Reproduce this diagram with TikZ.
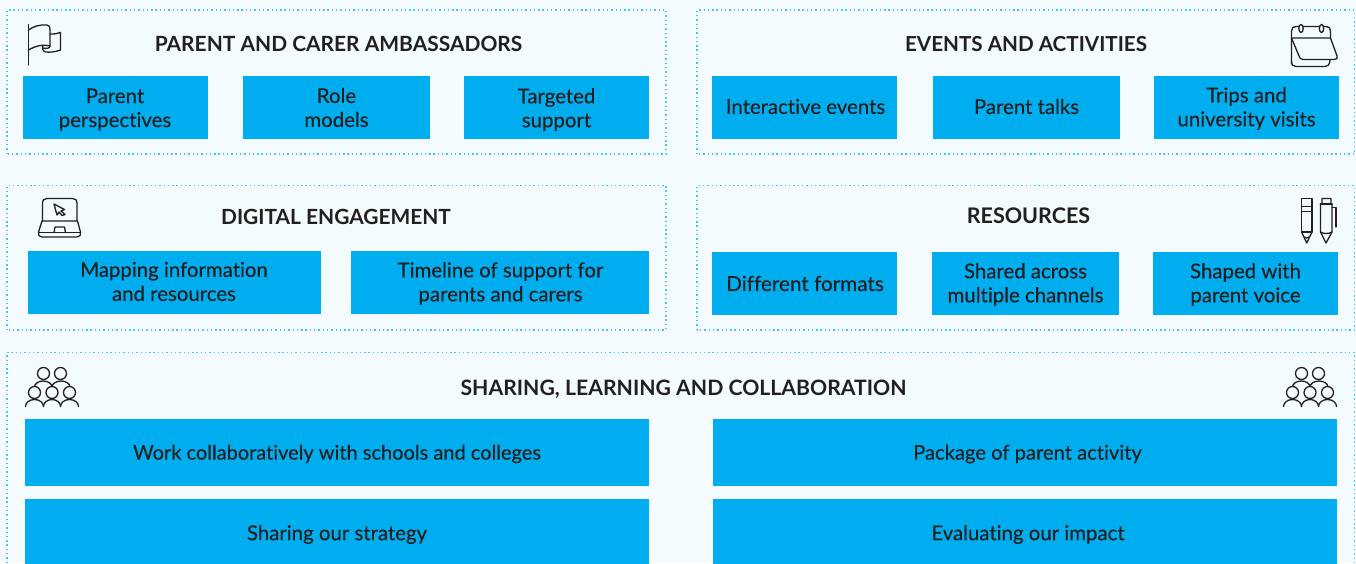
\documentclass[tikz,border=0pt]{standalone}
\usepackage{fontspec}
\setmainfont{Lato}[Ligatures=NoCommon]
\newfontfamily\bodyface{Lato}[Ligatures=NoCommon,FakeBold=0.25]
\definecolor{pagebg}{HTML}{F3FBFE}
\definecolor{boxblue}{HTML}{00AEEF}
\definecolor{dotblue}{HTML}{4CC4EE}
\definecolor{inktext}{HTML}{231F20}
\newcommand{\bodysize}[1]{\fontsize{#1}{24}\selectfont}
\tikzset{
  x=1pt,y=-1pt,
  panel/.style={draw=dotblue,line width=1.3pt,dash pattern=on 1.4pt off 2.9pt},
  bluebox/.style={fill=boxblue,inner sep=0pt},
  boxlabel/.style={text=inktext,inner sep=0pt,align=center,font=\bodyface\bodysize{20.4}},
  heading/.style={text=inktext,inner sep=0pt},
  icon/.style={draw=inktext,line width=1.3pt,line join=round,line cap=round},
}
\newcommand{\headfont}[1]{\fontsize{#1}{24}\bfseries\selectfont}
\newcommand{\groupicon}[2]{%
  \begin{scope}[shift={(#1,#2)}]
    \draw[icon] (43.5,373.5) circle (6);
    \draw[icon] (60.5,373.5) circle (6);
    \draw[icon] (34.5,387) arc[start angle=180,end angle=360,x radius=8.75,y radius=6];
    \draw[icon] (52,387) arc[start angle=180,end angle=360,x radius=9,y radius=6];
    \draw[icon,fill=pagebg] (34.5,392.5) circle (6);
    \draw[icon,fill=pagebg] (52,392.5) circle (6);
    \draw[icon,fill=pagebg] (69.5,392.5) circle (6);
    \draw[icon] (25.5,406.5) arc[start angle=180,end angle=360,x radius=9,y radius=7];
    \draw[icon] (43.5,406.5) arc[start angle=180,end angle=360,x radius=8.5,y radius=7];
    \draw[icon] (60.5,406.5) arc[start angle=180,end angle=360,x radius=9,y radius=7];
  \end{scope}
}
\begin{document}
\begin{tikzpicture}
\useasboundingbox (0,0) rectangle (1356,563);
\fill[pagebg] (0,0) rectangle (1356,563);
% panels
\draw[panel] (7,154) -- (7,10) -- (666,10) -- (666,154) -- cycle;
\draw[panel] (697,154) -- (697,10) -- (1354.5,10) -- (1354.5,154) -- cycle;
\draw[panel] (7,330) -- (7,185.5) -- (666,185.5) -- (666,330) -- cycle;
\draw[panel] (697,330) -- (697,185.5) -- (1354.5,185.5) -- (1354.5,330) -- cycle;
\draw[panel] (7,563) -- (7,352.5) -- (1354.5,352.5) -- (1354.5,563);
% headings
\node[heading,font=\headfont{20.95}] (h1) at (338.5,44) {PARENT AND CARER AMBASSADORS};
\node[heading,font=\headfont{20.65}] (h2) at (1026,44) {EVENTS AND ACTIVITIES};
\node[heading,font=\headfont{20.9}] (h3) at (336,217) {DIGITAL ENGAGEMENT};
\node[heading,font=\headfont{21.5}] (h4) at (1028.5,216) {RESOURCES};
\node[heading,font=\headfont{21.2}] (h5) at (683.5,389) {SHARING, LEARNING AND COLLABORATION};
% boxes
\node[bluebox,minimum width=185pt,minimum height=63pt] (a1) at (115.5,107.5) {};
\node[bluebox,minimum width=187pt,minimum height=63pt] (a2) at (336.5,107.5) {};
\node[bluebox,minimum width=185pt,minimum height=63pt] (a3) at (556.5,107.5) {};
\node[bluebox,minimum width=185pt,minimum height=63pt] (b1) at (804.5,107.5) {};
\node[bluebox,minimum width=187pt,minimum height=63pt] (b2) at (1026.5,107.5) {};
\node[bluebox,minimum width=185pt,minimum height=63pt] (b3) at (1246.5,107.5) {};
\node[bluebox,minimum width=293pt,minimum height=63pt] (c1) at (174.5,282.5) {};
\node[bluebox,minimum width=298pt,minimum height=63pt] (c2) at (500,282.5) {};
\node[bluebox,minimum width=185pt,minimum height=63pt] (d1) at (804.5,283.5) {};
\node[bluebox,minimum width=187pt,minimum height=63pt] (d2) at (1025.5,283.5) {};
\node[bluebox,minimum width=185pt,minimum height=63pt] (d3) at (1245.5,283.5) {};
\node[bluebox,minimum width=624pt,minimum height=67pt] (e1) at (337,452.5) {};
\node[bluebox,minimum width=624pt,minimum height=67pt] (e2) at (1025,452.5) {};
\node[bluebox,minimum width=624pt,minimum height=68pt] (e3) at (337,533) {};
\node[bluebox,minimum width=624pt,minimum height=68pt] (e4) at (1025,533) {};
% box texts
\node[boxlabel] (ta1) at (115,109.5) {Parent\\perspectives};
\node[boxlabel] (ta2) at (336.5,107.5) {Role\\models};
\node[boxlabel] (ta3) at (556.5,109.5) {Targeted\\support};
\node[boxlabel] (tb1) at (805.5,106.5) {Interactive events};
\node[boxlabel] (tb2) at (1026.5,106.5) {Parent talks};
\node[boxlabel] (tb3) at (1246.5,108.5) {Trips and\\university visits};
\node[boxlabel] (tc1) at (174,281.5) {Mapping information\\and resources};
\node[boxlabel] (tc2) at (500.5,283.5) {Timeline of support for\\parents and carers};
\node[boxlabel,font=\bodyface\bodysize{20.7}] (td1) at (805,283.5) {Different formats};
\node[boxlabel] (td2) at (1025.5,284.5) {Shared across\\multiple channels};
\node[boxlabel] (td3) at (1245.5,284.5) {Shaped with\\parent voice};
\node[boxlabel,font=\bodyface\bodysize{20}] (te1) at (337,454) {Work collaboratively with schools and colleges};
\node[boxlabel,font=\bodyface\bodysize{20.2}] (te2) at (1027.5,454) {Package of parent activity};
\node[boxlabel] (te3) at (337,534.5) {Sharing our strategy};
\node[boxlabel] (te4) at (1028,534.5) {Evaluating our impact};
% flag icon
\draw[icon] (28.5,65) -- (28.5,24.5);
\draw[icon] (28.5,30) .. controls (34,26) and (40,24.5) .. (47,25) .. controls (49.5,25) and (50,27) .. (50,30) -- (50,46) .. controls (44,44) and (36,45.5) .. (28.5,50);
\draw[icon] (50,34) .. controls (54,34) and (57,34) .. (60.5,32.5) -- (60.5,50) .. controls (55,52) and (50,52.5) .. (46,52) .. controls (42,51.5) and (42,47) .. (43,45.5);
\draw[icon] (50,46) .. controls (50,48) and (47,49) .. (43,48);
% calendar icon
\draw[icon] (1291.5,64) -- (1291.5,31) .. controls (1291.5,28) and (1293,26.5) .. (1296,26.5) -- (1326,26.5) .. controls (1329,26.5) and (1330.5,28) .. (1330.5,31) -- (1330.5,38);
\draw[icon] (1291.5,38) -- (1330.5,38) -- (1337,56) .. controls (1338,58.5) and (1336.5,59.5) .. (1334,59.5) -- (1303,59.5) .. controls (1301,59.5) and (1299.5,58) .. (1299,56) -- (1291.5,38);
\draw[icon] (1291.5,61) .. controls (1291.5,65) and (1293,66.5) .. (1296,66.5) -- (1325,66.5) .. controls (1328,66.5) and (1329.5,65) .. (1330,60);
\draw[icon,fill=pagebg] (1301,28.5) ellipse (2.2 and 4);
\draw[icon,fill=pagebg] (1321.5,28.5) ellipse (2.2 and 4);
% laptop icon
\draw[icon] (42.5,221) -- (42.5,203.5) .. controls (42.5,200) and (44,198.5) .. (47,198.5) -- (72.5,198.5) .. controls (75.5,198.5) and (77,200) .. (77,203.5) -- (77,221);
\draw[icon] (42,221) -- (77.5,221) -- (80.5,232) .. controls (81,235) and (80,237) .. (77,237) -- (42,237) .. controls (39,237) and (38,235) .. (38.5,232) -- (42,221);
\draw[icon] (39,232.5) -- (80.5,232.5);
\draw[icon] (54,232.5) -- (55,227) -- (64.5,227) -- (65.5,232.5);
\draw[icon] (54,204) -- (64.5,209.5) -- (61,211) -- (65,214.5) -- (62,215.5) -- (59,212) -- (57,215) -- cycle;
% pens icon
\draw[icon] (1301.5,198.5) rectangle (1312,232);
\draw[icon] (1301.5,232) -- (1306.7,243) -- (1312,232);
\draw[icon] (1304.5,237) -- (1306.7,238) -- (1309,237);
\draw[icon,line width=1.8pt] (1301.5,206.5) -- (1312,206.5);
\draw[icon] (1301.5,211.5) -- (1312,211.5);
\draw[icon] (1320.5,232) -- (1320.5,204) -- (1322,204) -- (1322,198.5) -- (1331,198.5) -- (1331,204) -- (1332,204) -- (1332,232) -- (1326,243) -- cycle;
\draw[icon,line width=1.8pt] (1320.5,204) -- (1332,204);
\draw[icon] (1320.5,232) .. controls (1323,234) and (1329,234) .. (1332,232);
\draw[icon] (1332,207.5) -- (1336,207.5) -- (1336,227);
% group icons
\groupicon{0}{0}
\groupicon{1258}{0}
\end{tikzpicture}
\end{document}
